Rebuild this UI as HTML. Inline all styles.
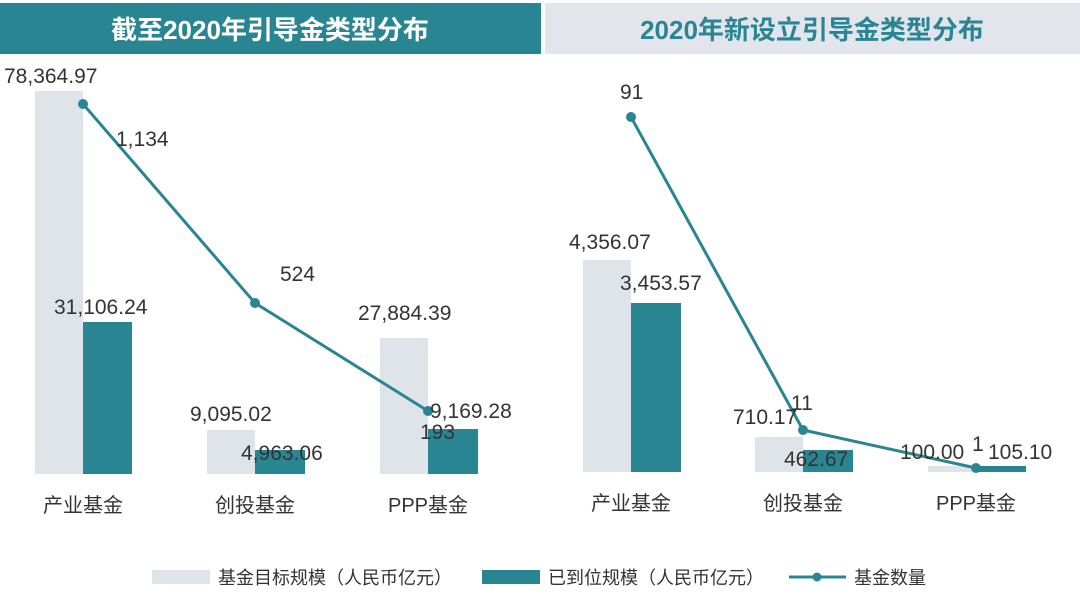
<!DOCTYPE html><html><head><meta charset="utf-8"><style>
body{margin:0;width:1080px;height:606px;background:#fff;overflow:hidden;font-family:"Liberation Sans","Noto Sans CJK SC",sans-serif}
</style></head><body>
<svg width="1080" height="606" xmlns="http://www.w3.org/2000/svg" font-family="Liberation Sans, Noto Sans CJK SC, sans-serif">
<rect x="0" y="3" width="541" height="51" fill="#2a8593"/>
<rect x="545" y="3" width="535" height="51" fill="#e2e6ec"/>
<text x="270" y="39" text-anchor="middle" font-size="26" font-weight="bold" fill="#fff">截至2020年引导金类型分布</text>
<text x="812" y="39" text-anchor="middle" font-size="26" font-weight="bold" fill="#2a8593">2020年新设立引导金类型分布</text>
<g fill="#dfe3ea"><rect x="35" y="91" width="48" height="383"/><rect x="207" y="430" width="48" height="44"/><rect x="380" y="338" width="48" height="136"/>
<rect x="583" y="260" width="48" height="212"/><rect x="755" y="437" width="48" height="35"/><rect x="928" y="466" width="48" height="6"/></g>
<g fill="#2a8593"><rect x="83" y="322" width="49" height="152"/><rect x="255" y="450" width="50" height="24"/><rect x="428" y="429" width="50" height="45"/>
<rect x="631" y="303" width="50" height="169"/><rect x="803" y="450" width="50" height="22"/><rect x="976" y="466" width="50" height="6"/></g>
<g fill="none" stroke="#2a8593" stroke-width="3"><polyline points="83,104 255,303 428,411"/><polyline points="631,117 803,430 976,468"/></g>
<g fill="#2a8593"><circle cx="83" cy="104" r="5"/><circle cx="255" cy="303" r="5"/><circle cx="428" cy="411" r="5"/><circle cx="631" cy="117" r="5"/><circle cx="803" cy="430" r="5"/><circle cx="976" cy="468" r="5"/></g>
<g font-size="21" fill="#333">
<text x="4" y="83">78,364.97</text><text x="116" y="146">1,134</text><text x="54" y="314">31,106.24</text>
<text x="280" y="281">524</text><text x="190" y="421">9,095.02</text><text x="241" y="460">4,963.06</text>
<text x="358" y="320">27,884.39</text><text x="430" y="418">9,169.28</text><text x="420" y="439">193</text>
<text x="620" y="99">91</text><text x="569" y="249">4,356.07</text><text x="620" y="290">3,453.57</text>
<text x="733" y="424">710.17</text><text x="791" y="410">11</text><text x="784" y="466">462.67</text>
<text x="900" y="459">100.00</text><text x="972" y="451">1</text><text x="988" y="459">105.10</text>
</g>
<g font-size="20" fill="#333" text-anchor="middle">
<text x="83" y="512">产业基金</text><text x="255" y="512">创投基金</text><text x="428" y="512">PPP基金</text>
<text x="631" y="510">产业基金</text><text x="803" y="510">创投基金</text><text x="976" y="510">PPP基金</text>
</g>
<rect x="152" y="570" width="58" height="14" fill="#dfe3ea"/>
<text x="218" y="584" font-size="18" fill="#333">基金目标规模（人民币亿元）</text>
<rect x="482" y="570" width="58" height="14" fill="#2a8593"/>
<text x="548" y="584" font-size="18" fill="#333">已到位规模（人民币亿元）</text>
<line x1="789" y1="577" x2="846" y2="577" stroke="#2a8593" stroke-width="3"/><circle cx="817" cy="577" r="4.5" fill="#2a8593"/>
<text x="854" y="584" font-size="18" fill="#333">基金数量</text>
</svg>
</body></html>
